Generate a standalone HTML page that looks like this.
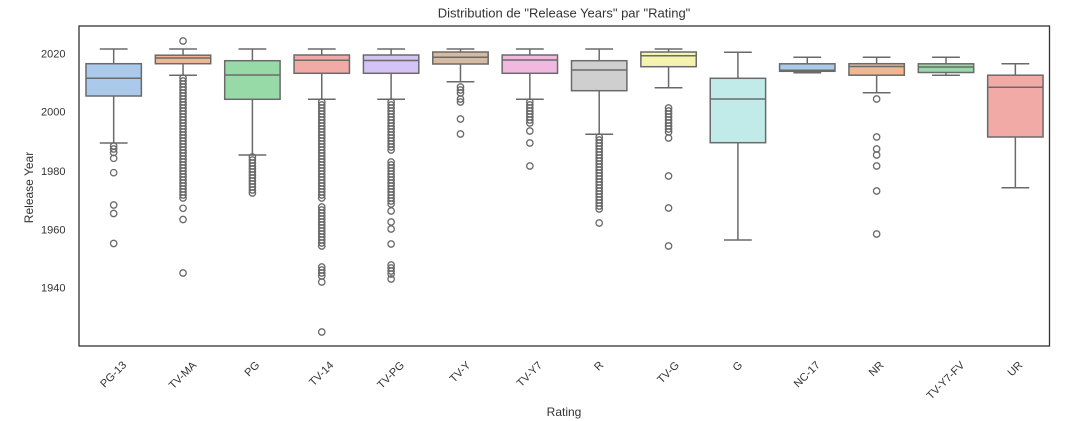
<!DOCTYPE html>
<html><head><meta charset="utf-8"><style>
html,body{margin:0;padding:0;background:#fff;}
svg{display:block;}
text{font-family:"Liberation Sans",Arial,sans-serif;fill:#333;}
</style></head><body>
<svg width="1080" height="421" viewBox="0 0 1080 421" xmlns="http://www.w3.org/2000/svg">
<rect width="1080" height="421" fill="#fff"/>
<text x="564" y="17.5" font-size="13" text-anchor="middle">Distribution de "Release Years" par "Rating"</text>

<!-- y ticks -->
<g font-size="11" text-anchor="end">
<text x="65.5" y="57.3">2020</text>
<text x="65.5" y="115.3">2000</text>
<text x="65.5" y="175">1980</text>
<text x="65.5" y="233.3">1960</text>
<text x="65.5" y="291.7">1940</text>
</g>
<text transform="translate(33,187.5) rotate(-90)" font-size="12" text-anchor="middle">Release Year</text>
<text x="564" y="416" font-size="12" text-anchor="middle">Rating</text>

<!-- x tick labels -->
<g font-size="11" text-anchor="middle" dominant-baseline="central">
<text transform="translate(113.68,374.8) rotate(-45)">PG-13</text>
<text transform="translate(183.04,375.6) rotate(-45)">TV-MA</text>
<text transform="translate(252.4,369.2) rotate(-45)">PG</text>
<text transform="translate(321.76,374.1) rotate(-45)">TV-14</text>
<text transform="translate(391.12,375.4) rotate(-45)">TV-PG</text>
<text transform="translate(460.48,372.4) rotate(-45)">TV-Y</text>
<text transform="translate(529.84,374.6) rotate(-45)">TV-Y7</text>
<text transform="translate(599.2,366.3) rotate(-45)">R</text>
<text transform="translate(668.56,372.8) rotate(-45)">TV-G</text>
<text transform="translate(737.92,366.6) rotate(-45)">G</text>
<text transform="translate(807.28,374.8) rotate(-45)">NC-17</text>
<text transform="translate(876.64,369.2) rotate(-45)">NR</text>
<text transform="translate(946,380.8) rotate(-45)">TV-Y7-FV</text>
<text transform="translate(1015.36,369.2) rotate(-45)">UR</text>
</g>

<!-- boxes -->
<g stroke="#6a6a6a" stroke-width="1.5" fill="none">
<g transform="translate(113.68,0)">
<line x1="0" y1="49" x2="0" y2="63.7"/><line x1="0" y1="96" x2="0" y2="143"/>
<line x1="-13.9" y1="49" x2="13.9" y2="49"/><line x1="-13.9" y1="143" x2="13.9" y2="143"/>
<rect x="-27.7" y="63.7" width="55.4" height="32.3" fill="#abc9ea"/>
<line x1="-27.7" y1="78.3" x2="27.7" y2="78.3"/>
</g>
<g transform="translate(183.04,0)">
<line x1="0" y1="49" x2="0" y2="55.2"/><line x1="0" y1="63.7" x2="0" y2="75.2"/>
<line x1="-13.9" y1="49" x2="13.9" y2="49"/><line x1="-13.9" y1="75.2" x2="13.9" y2="75.2"/>
<rect x="-27.7" y="55.2" width="55.4" height="8.5" fill="#efb792"/>
<line x1="-27.7" y1="58" x2="27.7" y2="58"/>
</g>
<g transform="translate(252.4,0)">
<line x1="0" y1="49" x2="0" y2="60.7"/><line x1="0" y1="99.3" x2="0" y2="155"/>
<line x1="-13.9" y1="49" x2="13.9" y2="49"/><line x1="-13.9" y1="155" x2="13.9" y2="155"/>
<rect x="-27.7" y="60.7" width="55.4" height="38.6" fill="#98daa7"/>
<line x1="-27.7" y1="75" x2="27.7" y2="75"/>
</g>
<g transform="translate(321.76,0)">
<line x1="0" y1="49" x2="0" y2="55"/><line x1="0" y1="73.3" x2="0" y2="99.3"/>
<line x1="-13.9" y1="49" x2="13.9" y2="49"/><line x1="-13.9" y1="99.3" x2="13.9" y2="99.3"/>
<rect x="-27.7" y="55" width="55.4" height="18.3" fill="#f2aaa7"/>
<line x1="-27.7" y1="60.3" x2="27.7" y2="60.3"/>
</g>
<g transform="translate(391.12,0)">
<line x1="0" y1="49" x2="0" y2="55"/><line x1="0" y1="73.3" x2="0" y2="99.3"/>
<line x1="-13.9" y1="49" x2="13.9" y2="49"/><line x1="-13.9" y1="99.3" x2="13.9" y2="99.3"/>
<rect x="-27.7" y="55" width="55.4" height="18.3" fill="#d3c3f6"/>
<line x1="-27.7" y1="60.5" x2="27.7" y2="60.5"/>
</g>
<g transform="translate(460.48,0)">
<line x1="0" y1="49" x2="0" y2="52"/><line x1="0" y1="64" x2="0" y2="81.7"/>
<line x1="-13.9" y1="49" x2="13.9" y2="49"/><line x1="-13.9" y1="81.7" x2="13.9" y2="81.7"/>
<rect x="-27.7" y="52" width="55.4" height="12" fill="#d6bba3"/>
<line x1="-27.7" y1="57.3" x2="27.7" y2="57.3"/>
</g>
<g transform="translate(529.84,0)">
<line x1="0" y1="49" x2="0" y2="55"/><line x1="0" y1="73.3" x2="0" y2="99.3"/>
<line x1="-13.9" y1="49" x2="13.9" y2="49"/><line x1="-13.9" y1="99.3" x2="13.9" y2="99.3"/>
<rect x="-27.7" y="55" width="55.4" height="18.3" fill="#f1b9e0"/>
<line x1="-27.7" y1="60" x2="27.7" y2="60"/>
</g>
<g transform="translate(599.2,0)">
<line x1="0" y1="49" x2="0" y2="60.7"/><line x1="0" y1="90.7" x2="0" y2="134.3"/>
<line x1="-13.9" y1="49" x2="13.9" y2="49"/><line x1="-13.9" y1="134.3" x2="13.9" y2="134.3"/>
<rect x="-27.7" y="60.7" width="55.4" height="30" fill="#cfcfcf"/>
<line x1="-27.7" y1="70" x2="27.7" y2="70"/>
</g>
<g transform="translate(668.56,0)">
<line x1="0" y1="49" x2="0" y2="52"/><line x1="0" y1="66.7" x2="0" y2="87.7"/>
<line x1="-13.9" y1="49" x2="13.9" y2="49"/><line x1="-13.9" y1="87.7" x2="13.9" y2="87.7"/>
<rect x="-27.7" y="52" width="55.4" height="14.7" fill="#f4f3af"/>
<line x1="-27.7" y1="55.7" x2="27.7" y2="55.7"/>
</g>
<g transform="translate(737.92,0)">
<line x1="0" y1="52.3" x2="0" y2="78.3"/><line x1="0" y1="142.7" x2="0" y2="240"/>
<line x1="-13.9" y1="52.3" x2="13.9" y2="52.3"/><line x1="-13.9" y1="240" x2="13.9" y2="240"/>
<rect x="-27.7" y="78.3" width="55.4" height="64.4" fill="#c0ebe9"/>
<line x1="-27.7" y1="99" x2="27.7" y2="99"/>
</g>
<g transform="translate(807.28,0)">
<line x1="0" y1="57.3" x2="0" y2="63.8"/><line x1="0" y1="71.3" x2="0" y2="72.8"/>
<line x1="-13.9" y1="57.3" x2="13.9" y2="57.3"/><line x1="-13.9" y1="72.8" x2="13.9" y2="72.8"/>
<rect x="-27.7" y="63.8" width="55.4" height="7.5" fill="#abc9ea"/>
<line x1="-27.7" y1="70.3" x2="27.7" y2="70.3"/>
</g>
<g transform="translate(876.64,0)">
<line x1="0" y1="57.3" x2="0" y2="63.7"/><line x1="0" y1="75.2" x2="0" y2="92.7"/>
<line x1="-13.9" y1="57.3" x2="13.9" y2="57.3"/><line x1="-13.9" y1="92.7" x2="13.9" y2="92.7"/>
<rect x="-27.7" y="63.7" width="55.4" height="11.5" fill="#efb792"/>
<line x1="-27.7" y1="66.5" x2="27.7" y2="66.5"/>
</g>
<g transform="translate(946,0)">
<line x1="0" y1="57.3" x2="0" y2="63.8"/><line x1="0" y1="72.5" x2="0" y2="75.2"/>
<line x1="-13.9" y1="57.3" x2="13.9" y2="57.3"/><line x1="-13.9" y1="75.2" x2="13.9" y2="75.2"/>
<rect x="-27.7" y="63.8" width="55.4" height="8.7" fill="#98daa7"/>
<line x1="-27.7" y1="67" x2="27.7" y2="67"/>
</g>
<g transform="translate(1015.36,0)">
<line x1="0" y1="63.7" x2="0" y2="75.2"/><line x1="0" y1="137" x2="0" y2="187.7"/>
<line x1="-13.9" y1="63.7" x2="13.9" y2="63.7"/><line x1="-13.9" y1="187.7" x2="13.9" y2="187.7"/>
<rect x="-27.7" y="75.2" width="55.4" height="61.8" fill="#f2aaa7"/>
<line x1="-27.7" y1="87.3" x2="27.7" y2="87.3"/>
</g>
</g>

<!-- outliers -->
<g stroke="#6a6a6a" stroke-width="1.3" fill="none">
<g transform="translate(113.68,0)">
<circle r="3.2" cy="146"/><circle r="3.2" cy="149"/><circle r="3.2" cy="152.5"/><circle r="3.2" cy="158.3"/><circle r="3.2" cy="172.7"/><circle r="3.2" cy="205"/><circle r="3.2" cy="213.5"/><circle r="3.2" cy="243.5"/>
</g>
<g transform="translate(183.04,0)">
<circle r="3.2" cy="41"/>
<circle r="3.2" cy="78"/><circle r="3.2" cy="81"/><circle r="3.2" cy="84"/><circle r="3.2" cy="87"/><circle r="3.2" cy="90"/><circle r="3.2" cy="93"/><circle r="3.2" cy="96"/><circle r="3.2" cy="99"/><circle r="3.2" cy="102"/><circle r="3.2" cy="105"/><circle r="3.2" cy="108"/><circle r="3.2" cy="111"/><circle r="3.2" cy="114"/><circle r="3.2" cy="117"/><circle r="3.2" cy="120"/><circle r="3.2" cy="123"/><circle r="3.2" cy="126"/><circle r="3.2" cy="129"/><circle r="3.2" cy="132"/><circle r="3.2" cy="135"/><circle r="3.2" cy="138"/><circle r="3.2" cy="141"/><circle r="3.2" cy="144"/><circle r="3.2" cy="147"/><circle r="3.2" cy="150"/><circle r="3.2" cy="153"/><circle r="3.2" cy="156"/><circle r="3.2" cy="159"/><circle r="3.2" cy="162"/><circle r="3.2" cy="165"/><circle r="3.2" cy="168"/><circle r="3.2" cy="171"/><circle r="3.2" cy="174"/><circle r="3.2" cy="177"/><circle r="3.2" cy="180"/><circle r="3.2" cy="183"/><circle r="3.2" cy="186"/><circle r="3.2" cy="189"/><circle r="3.2" cy="192"/><circle r="3.2" cy="195"/><circle r="3.2" cy="198"/>
<circle r="3.2" cy="208.3"/><circle r="3.2" cy="219.5"/><circle r="3.2" cy="273"/>
</g>
<g transform="translate(252.4,0)">
<circle r="3.2" cy="157"/><circle r="3.2" cy="160"/><circle r="3.2" cy="163"/><circle r="3.2" cy="166"/><circle r="3.2" cy="169"/><circle r="3.2" cy="172"/><circle r="3.2" cy="175"/><circle r="3.2" cy="178"/><circle r="3.2" cy="181"/><circle r="3.2" cy="184"/><circle r="3.2" cy="187"/><circle r="3.2" cy="190"/><circle r="3.2" cy="193"/>
</g>
<g transform="translate(321.76,0)">
<circle r="3.2" cy="102"/><circle r="3.2" cy="105"/><circle r="3.2" cy="108"/><circle r="3.2" cy="111"/><circle r="3.2" cy="114"/><circle r="3.2" cy="117"/><circle r="3.2" cy="120"/><circle r="3.2" cy="123"/><circle r="3.2" cy="126"/><circle r="3.2" cy="129"/><circle r="3.2" cy="132"/><circle r="3.2" cy="135"/><circle r="3.2" cy="138"/><circle r="3.2" cy="141"/><circle r="3.2" cy="144"/><circle r="3.2" cy="147"/><circle r="3.2" cy="150"/><circle r="3.2" cy="153"/><circle r="3.2" cy="156"/><circle r="3.2" cy="159"/><circle r="3.2" cy="162"/><circle r="3.2" cy="165"/><circle r="3.2" cy="168"/><circle r="3.2" cy="171"/><circle r="3.2" cy="174"/><circle r="3.2" cy="177"/><circle r="3.2" cy="180"/><circle r="3.2" cy="183"/><circle r="3.2" cy="186"/><circle r="3.2" cy="189"/><circle r="3.2" cy="192"/><circle r="3.2" cy="195"/><circle r="3.2" cy="198"/>
<circle r="3.2" cy="207"/><circle r="3.2" cy="210"/><circle r="3.2" cy="213"/><circle r="3.2" cy="216"/><circle r="3.2" cy="219"/><circle r="3.2" cy="222"/><circle r="3.2" cy="225"/><circle r="3.2" cy="228"/><circle r="3.2" cy="231"/><circle r="3.2" cy="234"/><circle r="3.2" cy="237"/><circle r="3.2" cy="240"/><circle r="3.2" cy="243"/><circle r="3.2" cy="246"/>
<circle r="3.2" cy="267"/><circle r="3.2" cy="270"/><circle r="3.2" cy="273"/><circle r="3.2" cy="276"/><circle r="3.2" cy="282"/><circle r="3.2" cy="332"/>
</g>
<g transform="translate(391.12,0)">
<circle r="3.2" cy="102"/><circle r="3.2" cy="105"/><circle r="3.2" cy="108"/><circle r="3.2" cy="111"/><circle r="3.2" cy="114"/><circle r="3.2" cy="117"/><circle r="3.2" cy="120"/><circle r="3.2" cy="123"/><circle r="3.2" cy="126"/><circle r="3.2" cy="129"/><circle r="3.2" cy="132"/><circle r="3.2" cy="135"/><circle r="3.2" cy="138"/><circle r="3.2" cy="141"/><circle r="3.2" cy="144"/><circle r="3.2" cy="147"/><circle r="3.2" cy="150"/>
<circle r="3.2" cy="162"/><circle r="3.2" cy="165"/><circle r="3.2" cy="168"/><circle r="3.2" cy="171"/><circle r="3.2" cy="174"/><circle r="3.2" cy="177"/><circle r="3.2" cy="180"/><circle r="3.2" cy="183"/><circle r="3.2" cy="186"/><circle r="3.2" cy="189"/><circle r="3.2" cy="192"/><circle r="3.2" cy="195"/><circle r="3.2" cy="198"/><circle r="3.2" cy="201"/><circle r="3.2" cy="204"/>
<circle r="3.2" cy="211"/><circle r="3.2" cy="222"/><circle r="3.2" cy="229"/><circle r="3.2" cy="244"/><circle r="3.2" cy="265"/><circle r="3.2" cy="268"/><circle r="3.2" cy="271"/><circle r="3.2" cy="274"/><circle r="3.2" cy="279"/>
</g>
<g transform="translate(460.48,0)">
<circle r="3.2" cy="87"/><circle r="3.2" cy="90"/><circle r="3.2" cy="93"/><circle r="3.2" cy="99"/><circle r="3.2" cy="102"/><circle r="3.2" cy="119"/><circle r="3.2" cy="134"/>
</g>
<g transform="translate(529.84,0)">
<circle r="3.2" cy="102"/><circle r="3.2" cy="105"/><circle r="3.2" cy="108"/><circle r="3.2" cy="111"/><circle r="3.2" cy="114"/><circle r="3.2" cy="117"/><circle r="3.2" cy="120"/><circle r="3.2" cy="123"/><circle r="3.2" cy="131"/><circle r="3.2" cy="143"/><circle r="3.2" cy="166"/>
</g>
<g transform="translate(599.2,0)">
<circle r="3.2" cy="137"/><circle r="3.2" cy="140"/><circle r="3.2" cy="143"/><circle r="3.2" cy="146"/><circle r="3.2" cy="149"/><circle r="3.2" cy="152"/><circle r="3.2" cy="155"/><circle r="3.2" cy="158"/><circle r="3.2" cy="161"/><circle r="3.2" cy="164"/><circle r="3.2" cy="167"/><circle r="3.2" cy="170"/><circle r="3.2" cy="173"/><circle r="3.2" cy="176"/><circle r="3.2" cy="179"/><circle r="3.2" cy="182"/><circle r="3.2" cy="185"/><circle r="3.2" cy="188"/><circle r="3.2" cy="191"/><circle r="3.2" cy="194"/><circle r="3.2" cy="197"/><circle r="3.2" cy="200"/><circle r="3.2" cy="203"/><circle r="3.2" cy="206"/><circle r="3.2" cy="209"/><circle r="3.2" cy="223"/>
</g>
<g transform="translate(668.56,0)">
<circle r="3.2" cy="108"/><circle r="3.2" cy="111"/><circle r="3.2" cy="114"/><circle r="3.2" cy="117"/><circle r="3.2" cy="120"/><circle r="3.2" cy="123"/><circle r="3.2" cy="126"/><circle r="3.2" cy="129"/><circle r="3.2" cy="132"/><circle r="3.2" cy="138"/><circle r="3.2" cy="176"/><circle r="3.2" cy="208"/><circle r="3.2" cy="246"/>
</g>
<g transform="translate(876.64,0)">
<circle r="3.2" cy="99"/><circle r="3.2" cy="137"/><circle r="3.2" cy="149"/><circle r="3.2" cy="155"/><circle r="3.2" cy="166"/><circle r="3.2" cy="191"/><circle r="3.2" cy="234"/>
</g>
</g>

<!-- frame -->
<rect x="79" y="26" width="970.5" height="320" fill="none" stroke="#333" stroke-width="1.3"/>
</svg>
</body></html>
